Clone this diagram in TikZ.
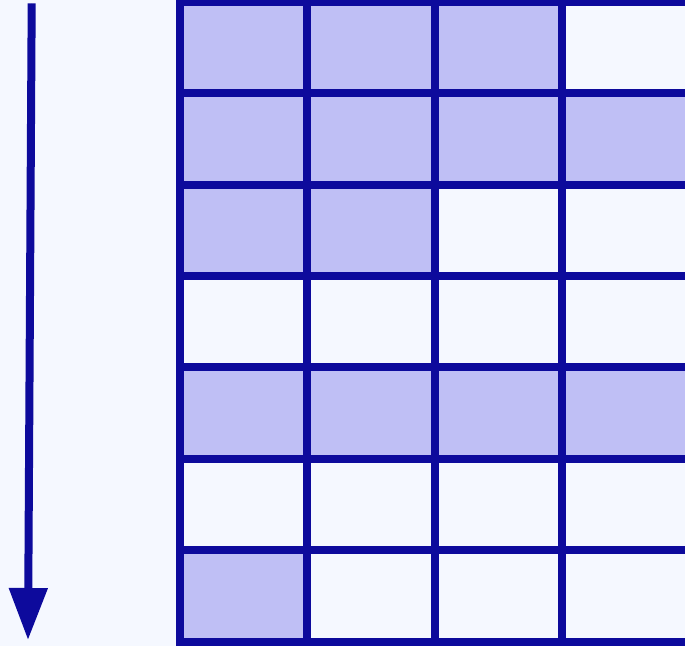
\documentclass[tikz,border=0pt]{standalone}
\usetikzlibrary{arrows.meta}
\definecolor{bgc}{HTML}{F5F8FF}
\definecolor{linec}{HTML}{0D0A9C}
\definecolor{cellc}{HTML}{BFBFF5}
\begin{document}
\begin{tikzpicture}[x=1pt,y=-1pt,
  gridline/.style={draw=linec,line width=8pt},
  filled/.style={fill=cellc}]
\fill[bgc] (0,0) rectangle (685,646);
\useasboundingbox (0,0) rectangle (685,646);
% filled cells: column x-edges 180,307.3,434.7,562,689.3 ; rows 1.7 + 91.43 k
\def\cw{127.33}
\def\rh{91.43}
\foreach \r/\c in {0/0,0/1,0/2,1/0,1/1,1/2,1/3,2/0,2/1,4/0,4/1,4/2,4/3,6/0}{
  \fill[cellc] ({180+\c*\cw},{1.7+\r*\rh}) rectangle ({180+(\c+1)*\cw},{1.7+(\r+1)*\rh});
}
% grid lines
\foreach \r in {0,...,7}{
  \draw[gridline] (176,{1.7+\r*\rh}) -- (690,{1.7+\r*\rh});
}
\foreach \c in {0,...,3}{
  \draw[gridline] ({180+\c*\cw},-2.3) -- ({180+\c*\cw},645.7);
}
% arrow
\coordinate (atop) at (31.7,3.3);
\coordinate (abot) at (28,640);
\draw[draw=linec,line width=8pt,-{Triangle[length=52pt,width=37pt]},fill=linec] (atop) -- (abot);
\end{tikzpicture}
\end{document}
